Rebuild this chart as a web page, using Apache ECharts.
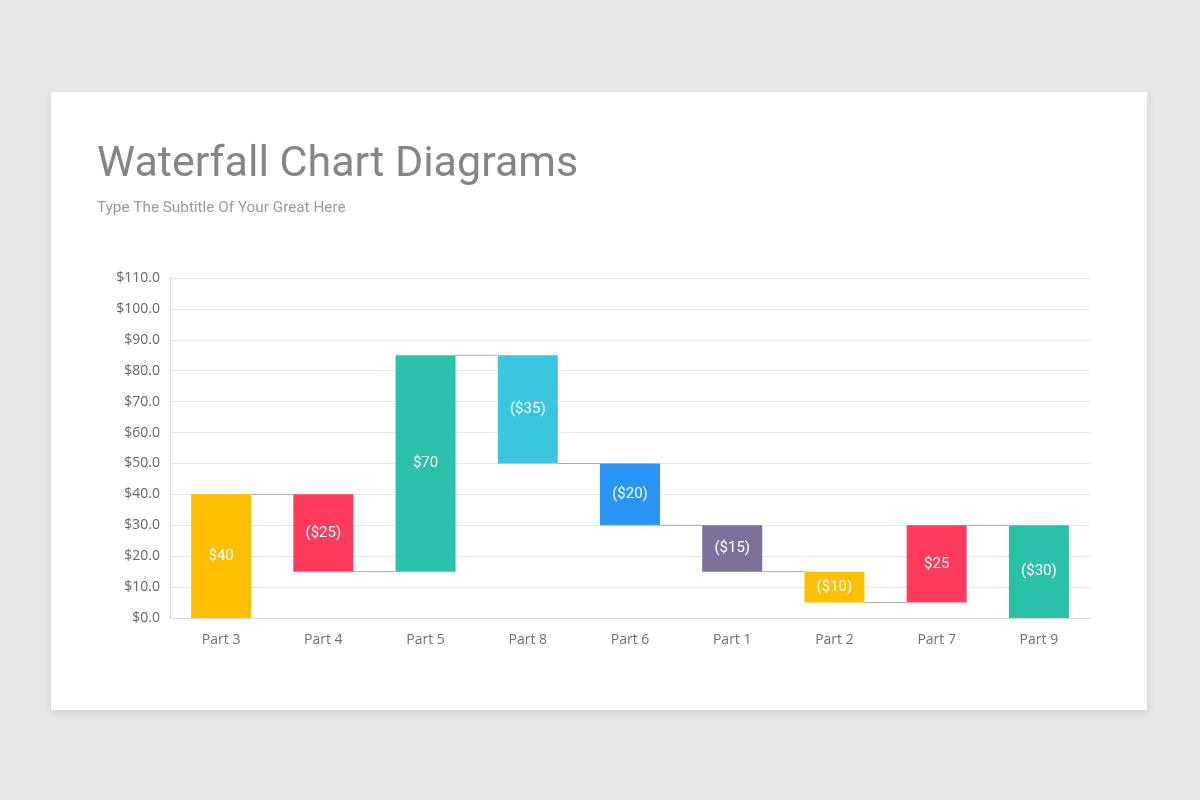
<!DOCTYPE html>
<html>
<head>
<meta charset="utf-8">
<script src="https://cdn.jsdelivr.net/npm/echarts@6/dist/echarts.min.js"></script>
<style>
html,body{margin:0;padding:0;width:1200px;height:800px;background:#e8e6e7;overflow:hidden;}
#card{position:absolute;left:51px;top:92px;width:1096px;height:618px;background:#fff;box-shadow:0 3px 8px rgba(0,0,0,0.10);}
#chart{position:absolute;left:0;top:0;width:1200px;height:800px;}
</style>
</head>
<body>
<div id="card"></div>
<div id="chart"></div>
<script>
var categories = ['Part 3','Part 4','Part 5','Part 8','Part 6','Part 1','Part 2','Part 7','Part 9'];
var baseValues = [0, 15, 15, 50, 30, 15, 5, 5, 0];
var barValues = [40, 25, 70, 35, 20, 15, 10, 25, 30];
var barLabels = ['$40','($25)','$70','($35)','($20)','($15)','($10)','$25','($30)'];
var barColors = ['#fdbf00','#fe3a5d','#2bc1a9','#3ac5e1','#2a95f4','#7e7199','#fdbf00','#fe3a5d','#2bc1a9'];
var connectorLevels = [40, 15, 85, 50, 30, 15, 5, 30];
var yTicks = {min: 0, max: 110, interval: 10};

var BAR_W = 60;
var chart = echarts.init(document.getElementById('chart'), null, {renderer: 'canvas'});
chart.setOption({
  backgroundColor: 'transparent',
  animation: false,
  title: [
    {text: 'Waterfall Chart Diagrams', left: 97, top: 144, padding: 0,
     textStyle: {fontFamily: 'Roboto', fontSize: 43, fontWeight: 'normal', color: '#858585'}},
    {text: 'Type The Subtitle Of Your Great Here', left: 97, top: 201, padding: 0,
     textStyle: {fontFamily: 'Roboto', fontSize: 15.3, fontWeight: 'normal', color: '#9a9a9a'}}
  ],
  grid: {left: 170, right: 110, top: 278, bottom: 182, containLabel: false},
  xAxis: {
    type: 'category', data: categories,
    axisLine: {show: true, lineStyle: {color: '#d9d9d9'}},
    axisTick: {show: false},
    axisLabel: {margin: 15, fontFamily: 'Open Sans', fontSize: 14, color: '#6f6f6f'}
  },
  yAxis: {
    type: 'value', min: yTicks.min, max: yTicks.max, interval: yTicks.interval,
    axisLine: {show: true, lineStyle: {color: '#d9d9d9'}},
    axisTick: {show: false},
    splitLine: {lineStyle: {color: '#e6e6e6'}},
    axisLabel: {margin: 10, fontFamily: 'Open Sans', fontSize: 14, color: '#666',
      formatter: function (v) { return '$' + v.toFixed(1); }}
  },
  series: [
    {type: 'bar', stack: 'w', barWidth: BAR_W, data: baseValues,
     itemStyle: {color: 'transparent'}, silent: true},
    {type: 'bar', stack: 'w', barWidth: BAR_W,
     data: barValues.map(function (v, i) { return {value: v, itemStyle: {color: barColors[i]}}; }),
     label: {show: true, position: 'inside', color: '#fff', fontFamily: 'Roboto', fontSize: 15,
       formatter: function (p) { return barLabels[p.dataIndex]; }}},
    {type: 'custom', silent: true, z: 1,
     data: connectorLevels.map(function (v, i) { return [i, v]; }),
     renderItem: function (params, api) {
       var i = api.value(0), lvl = api.value(1);
       var p1 = api.coord([i, lvl]);
       var p2 = api.coord([i + 1, lvl]);
       return {type: 'line', shape: {x1: p1[0] + BAR_W / 2, y1: p1[1], x2: p2[0] - BAR_W / 2, y2: p2[1]},
         style: {stroke: '#a9a9a9', lineWidth: 1}};
     }}
  ]
});
</script>
</body>
</html>
